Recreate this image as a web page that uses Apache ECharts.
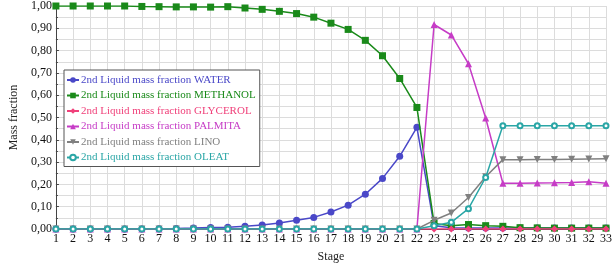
<!DOCTYPE html>
<html>
<head>
<meta charset="utf-8">
<script src="https://cdn.jsdelivr.net/npm/echarts@6/dist/echarts.min.js"></script>
<style>
  html, body { margin: 0; padding: 0; background: #fff; }
  #chart { width: 615px; height: 270px; }
</style>
</head>
<body>
<div id="chart"></div>
<script>
const stages = Array.from({ length: 33 }, (_, i) => String(i + 1));

const water = [0, 0, 0, 0, 0, 0, 0.001, 0.002, 0.004, 0.007, 0.008, 0.012, 0.018, 0.027, 0.039, 0.052,
  0.076, 0.107, 0.156, 0.227, 0.326, 0.456, 0.015, 0.006, 0.005, 0.005, 0.005, 0.004, 0.004, 0.004, 0.004, 0.004, 0.004];
const methanol = [1.0, 1.0, 1.0, 1.0, 1.0, 0.998, 0.997, 0.996, 0.996, 0.995, 0.997, 0.991, 0.985, 0.976, 0.966, 0.95,
  0.923, 0.895, 0.846, 0.777, 0.675, 0.545, 0.025, 0.015, 0.02, 0.015, 0.012, 0.006, 0.005, 0.004, 0.004, 0.004, 0.004];
const glycerol = [0, 0, 0, 0, 0, 0, 0, 0, 0, 0, 0, 0, 0, 0, 0, 0,
  0, 0, 0, 0, 0, 0, 0, 0, 0, 0, 0, 0, 0, 0, 0, 0, 0];
const palmita = [0, 0, 0, 0, 0, 0, 0, 0, 0, 0, 0, 0, 0, 0, 0, 0,
  0, 0, 0, 0, 0, 0, 0.917, 0.87, 0.741, 0.498, 0.205, 0.205, 0.206, 0.207, 0.209, 0.212, 0.205];
const lino = [0, 0, 0, 0, 0, 0, 0, 0, 0, 0, 0, 0, 0, 0, 0, 0,
  0, 0, 0, 0, 0, 0, 0.039, 0.072, 0.141, 0.234, 0.311, 0.311, 0.312, 0.312, 0.313, 0.314, 0.315];
const oleat = [0, 0, 0, 0, 0, 0, 0, 0, 0, 0, 0, 0, 0, 0, 0, 0,
  0, 0, 0, 0, 0, 0, 0.015, 0.03, 0.091, 0.231, 0.463, 0.463, 0.463, 0.463, 0.463, 0.463, 0.463];

const names = [
  "2nd Liquid mass fraction WATER",
  "2nd Liquid mass fraction METHANOL",
  "2nd Liquid mass fraction GLYCEROL",
  "2nd Liquid mass fraction PALMITA",
  "2nd Liquid mass fraction LINO",
  "2nd Liquid mass fraction OLEAT",
];
const colors = ["#4a48c8", "#1a8a1a", "#f0407a", "#c63cc6", "#808080", "#2aa6a6"];
const symbols = ["circle", "rect", "diamond", "triangle", "path://M0,0 L10,0 L5,9 Z", "emptyCircle"];
const values = [water, methanol, glycerol, palmita, lino, oleat];

const serif = "'Liberation Serif', 'DejaVu Serif', serif";

const chart = echarts.init(document.getElementById("chart"));
chart.setOption({
  animation: false,
  grid: { left: 37, right: 9, top: 4, bottom: 41 },
  legend: {
    orient: "vertical",
    left: 64,
    top: 70,
    padding: [4, 4, 3, 2],
    itemGap: 3.5,
    itemWidth: 12,
    itemHeight: 7,
    backgroundColor: "#fff",
    borderColor: "#555",
    borderWidth: 1,
    data: names.map((n, i) => ({ name: n, textStyle: { color: colors[i] } })),
    textStyle: { fontFamily: serif, fontSize: 11, lineHeight: 12, padding: [0, 0, 0, -3] },
  },
  xAxis: {
    type: "category",
    data: stages,
    boundaryGap: false,
    name: "Stage",
    nameLocation: "middle",
    nameGap: 22,
    nameTextStyle: { fontFamily: serif, fontSize: 12, color: "#222" },
    axisLine: { lineStyle: { color: "#444" } },
    axisTick: { show: false },
    axisLabel: { interval: 0, fontFamily: serif, fontSize: 12, color: "#111", margin: 4 },
    splitLine: { show: true, interval: 0, lineStyle: { color: "#dcdcdc" } },
  },
  yAxis: {
    type: "value",
    min: 0,
    max: 1,
    interval: 0.1,
    name: "Mass fraction",
    nameLocation: "middle",
    nameGap: 29,
    nameTextStyle: { fontFamily: serif, fontSize: 12, color: "#222" },
    axisLine: { show: true, lineStyle: { color: "#444" } },
    axisTick: { show: true, length: 3, inside: true, lineStyle: { color: "#444" } },
    minorTick: { show: true, splitNumber: 2, length: 2, lineStyle: { color: "#444" } },
    axisLabel: {
      fontFamily: serif, fontSize: 12, color: "#111", margin: 4,
      formatter: (v) => v.toFixed(2).replace(".", ","),
    },
    splitLine: { show: true, lineStyle: { color: "#dcdcdc" } },
    minorSplitLine: { show: true, lineStyle: { color: "#dcdcdc" } },
  },
  series: names.map((n, i) => ({
    name: n,
    type: "line",
    data: values[i],
    symbol: symbols[i],
    symbolSize: i === 5 ? 5 : 7,
    showAllSymbol: true,
    lineStyle: { color: colors[i], width: 1.5 },
    itemStyle: { color: colors[i], borderWidth: i === 5 ? 1 : 0 },
    z: i === 2 ? 5 : 2 + i,
  })),
});
</script>
</body>
</html>
